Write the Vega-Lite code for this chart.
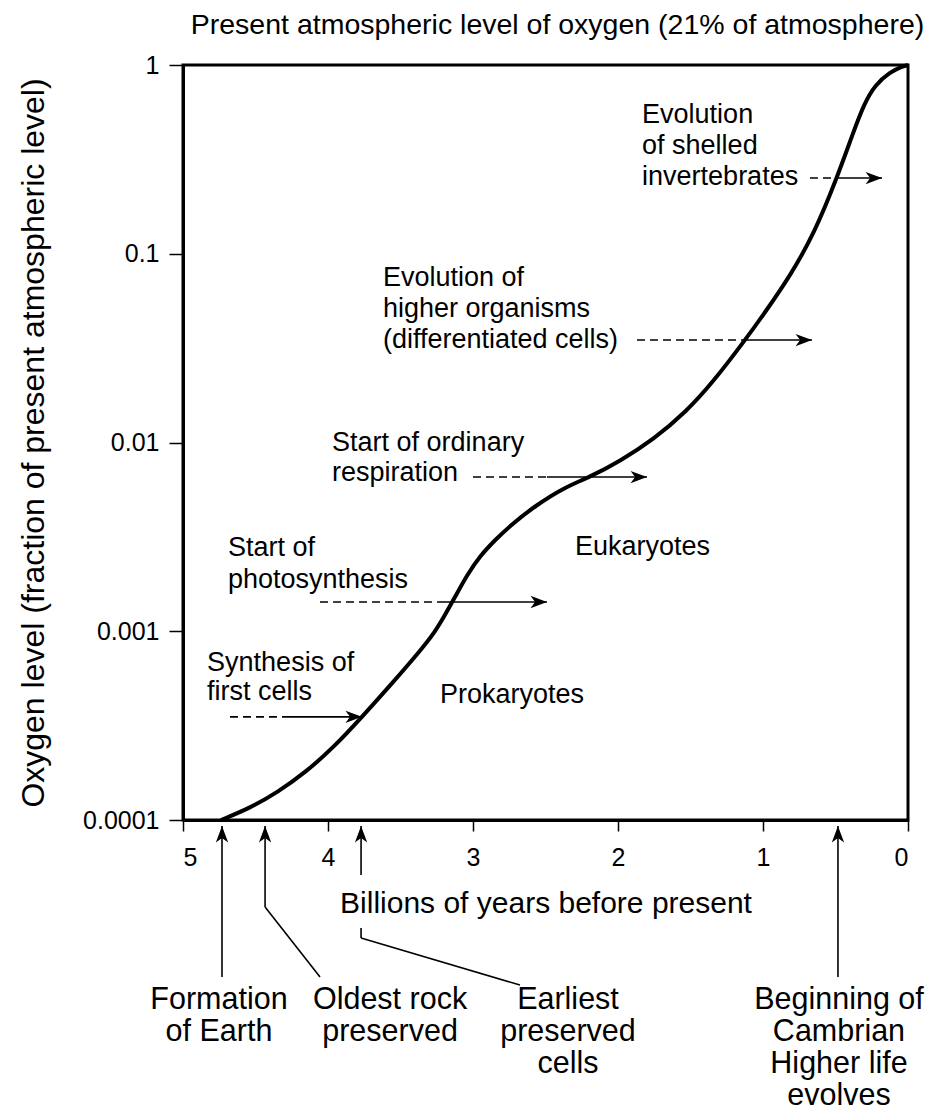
{
  "$schema": "https://vega.github.io/schema/vega-lite/v6.json",
  "autosize": {"type": "none"},
  "width": 725,
  "height": 755,
  "padding": {"left": 183, "top": 65, "right": 24, "bottom": 300},
  "background": "white",
  "config": {
    "font": "Liberation Sans",
    "view": {"stroke": "black", "strokeWidth": 3},
    "axis": {"grid": false, "domainColor": "black", "domainWidth": 3, "tickColor": "black", "tickWidth": 1.5, "labelColor": "black", "titleColor": "black", "labelFontSize": 25, "titleFontWeight": "normal", "labelFont": "Liberation Sans", "titleFont": "Liberation Sans"}
  },
  "title": {"text": "Present atmospheric level of oxygen (21% of atmosphere)", "fontSize": 28.5, "fontWeight": "normal", "font": "Liberation Sans", "color": "black", "anchor": "middle", "frame": "group", "offset": 14, "dx": 12},
  "datasets": {
    "curve": [
      {"t": 4.738, "o2": 0.0001},
      {"t": 4.538, "o2": 0.00011577},
      {"t": 4.345, "o2": 0.00014068},
      {"t": 4.152, "o2": 0.00017963},
      {"t": 3.959, "o2": 0.00024357},
      {"t": 3.766, "o2": 0.00035133},
      {"t": 3.538, "o2": 0.00055163},
      {"t": 3.366, "o2": 0.0007860},
      {"t": 3.262, "o2": 0.0009909},
      {"t": 3.193, "o2": 0.0012195},
      {"t": 3.124, "o2": 0.0015186},
      {"t": 3.041, "o2": 0.0019861},
      {"t": 2.952, "o2": 0.0025043},
      {"t": 2.848, "o2": 0.0030436},
      {"t": 2.731, "o2": 0.0036998},
      {"t": 2.572, "o2": 0.0046089},
      {"t": 2.379, "o2": 0.0057412},
      {"t": 2.193, "o2": 0.0065647},
      {"t": 1.986, "o2": 0.0079799},
      {"t": 1.759, "o2": 0.010309},
      {"t": 1.524, "o2": 0.014684},
      {"t": 1.345, "o2": 0.020918},
      {"t": 1.138, "o2": 0.033665},
      {"t": 0.979, "o2": 0.049737},
      {"t": 0.814, "o2": 0.076243},
      {"t": 0.648, "o2": 0.12726},
      {"t": 0.49, "o2": 0.25192},
      {"t": 0.379, "o2": 0.43621},
      {"t": 0.303, "o2": 0.62144},
      {"t": 0.228, "o2": 0.78343},
      {"t": 0.124, "o2": 0.91806},
      {"t": 0.034, "o2": 0.98786},
      {"t": 0.0, "o2": 1.0}
    ],
    "innerText": [
      {"t": 1.834, "o2": 0.543, "label": "Evolution"},
      {"t": 1.834, "o2": 0.3726, "label": "of shelled"},
      {"t": 1.834, "o2": 0.255, "label": "invertebrates"},
      {"t": 3.621, "o2": 0.07437, "label": "Evolution of"},
      {"t": 3.621, "o2": 0.05096, "label": "higher organisms"},
      {"t": 3.621, "o2": 0.0349, "label": "(differentiated cells)"},
      {"t": 3.972, "o2": 0.00994, "label": "Start of ordinary"},
      {"t": 3.972, "o2": 0.00689, "label": "respiration"},
      {"t": 4.69, "o2": 0.002761, "label": "Start of"},
      {"t": 4.69, "o2": 0.001868, "label": "photosynthesis"},
      {"t": 4.834, "o2": 0.0006787, "label": "Synthesis of"},
      {"t": 4.834, "o2": 0.0004768, "label": "first cells"},
      {"t": 3.228, "o2": 0.0004596, "label": "Prokaryotes"},
      {"t": 2.297, "o2": 0.002795, "label": "Eukaryotes"}
    ],
    "bottomText": [
      {"t": 4.752, "o2": 0.00001112, "label": "Formation"},
      {"t": 4.752, "o2": 0.00000753, "label": "of Earth"},
      {"t": 3.572, "o2": 0.00001112, "label": "Oldest rock"},
      {"t": 3.572, "o2": 0.00000753, "label": "preserved"},
      {"t": 2.345, "o2": 0.00001112, "label": "Earliest"},
      {"t": 2.345, "o2": 0.00000753, "label": "preserved"},
      {"t": 2.345, "o2": 0.0000051, "label": "cells"},
      {"t": 0.476, "o2": 0.00001112, "label": "Beginning of"},
      {"t": 0.476, "o2": 0.00000753, "label": "Cambrian"},
      {"t": 0.476, "o2": 0.0000051, "label": "Higher life"},
      {"t": 0.476, "o2": 0.00000345, "label": "evolves"}
    ],
    "dashed": [
      {"t": 4.676, "t2": 4.283, "o2": 0.000352},
      {"t": 4.055, "t2": 3.207, "o2": 0.001429},
      {"t": 3.0, "t2": 2.49, "o2": 0.00656},
      {"t": 1.869, "t2": 1.138, "o2": 0.0349},
      {"t": 0.676, "t2": 0.49, "o2": 0.2518}
    ],
    "solid": [
      {"t": 4.283, "t2": 3.766, "o2": 0.000352},
      {"t": 3.207, "t2": 2.49, "o2": 0.001429},
      {"t": 2.49, "t2": 1.8, "o2": 0.00656},
      {"t": 1.138, "t2": 0.662, "o2": 0.0349},
      {"t": 0.49, "t2": 0.179, "o2": 0.2518}
    ],
    "headsRight": [
      {"t": 3.766, "o2": 0.000352},
      {"t": 2.49, "o2": 0.001429},
      {"t": 1.8, "o2": 0.00656},
      {"t": 0.662, "o2": 0.0349},
      {"t": 0.179, "o2": 0.2518}
    ],
    "connectors": [
      {"t": 4.731, "o2": 0.0000929, "t2": 4.731, "o2b": 0.00001472},
      {"t": 4.434, "o2": 0.0000929, "t2": 4.434, "o2b": 0.0000346},
      {"t": 4.434, "o2": 0.0000346, "t2": 4.055, "o2b": 0.00001472},
      {"t": 3.772, "o2": 0.0000929, "t2": 3.772, "o2b": 0.0000512},
      {"t": 3.772, "o2": 0.0000268, "t2": 3.772, "o2b": 0.0000237},
      {"t": 3.772, "o2": 0.0000237, "t2": 2.676, "o2b": 0.00001336},
      {"t": 0.483, "o2": 0.0000929, "t2": 0.483, "o2b": 0.00001472}
    ],
    "headsUp": [
      {"t": 4.731, "o2": 0.0000929},
      {"t": 4.434, "o2": 0.0000929},
      {"t": 3.772, "o2": 0.0000929},
      {"t": 0.483, "o2": 0.0000929}
    ]
  },
  "layer": [
    {
      "data": {"name": "curve"},
      "mark": {"type": "line", "color": "black", "strokeWidth": 4, "interpolate": "basis", "clip": false},
      "encoding": {
        "x": {"field": "t", "type": "quantitative", "scale": {"domain": [0, 5], "reverse": true, "nice": false, "zero": false},
          "axis": {"values": [0, 1, 2, 3, 4, 5], "format": "d", "tickSize": 11, "labelPadding": 14, "title": "Billions of years before present", "titleFontSize": 30, "titlePadding": 18}},
        "y": {"field": "o2", "type": "quantitative", "scale": {"type": "log", "domain": [0.0001, 1], "nice": false},
          "axis": {"values": [0.0001, 0.001, 0.01, 0.1, 1], "format": "~g", "tickSize": 14, "labelPadding": 10, "title": "Oxygen level (fraction of present atmospheric level)", "titleFontSize": 32, "titlePadding": 32}}
      }
    },
    {
      "data": {"name": "dashed"},
      "mark": {"type": "rule", "color": "black", "strokeWidth": 1.6, "strokeDash": [8, 5], "clip": false},
      "encoding": {
        "x": {"field": "t", "type": "quantitative"},
        "x2": {"field": "t2"},
        "y": {"field": "o2", "type": "quantitative"}
      }
    },
    {
      "data": {"name": "solid"},
      "mark": {"type": "rule", "color": "black", "strokeWidth": 1.6, "clip": false},
      "encoding": {
        "x": {"field": "t", "type": "quantitative"},
        "x2": {"field": "t2"},
        "y": {"field": "o2", "type": "quantitative"}
      }
    },
    {
      "data": {"name": "headsRight"},
      "mark": {"type": "point", "shape": "M0,0L-2,-0.75L-1.45,0L-2,0.75Z", "filled": true, "color": "black", "opacity": 1, "size": 270, "strokeWidth": 0, "clip": false},
      "encoding": {
        "x": {"field": "t", "type": "quantitative"},
        "y": {"field": "o2", "type": "quantitative"}
      }
    },
    {
      "data": {"name": "connectors"},
      "mark": {"type": "rule", "color": "black", "strokeWidth": 1.6, "clip": false},
      "encoding": {
        "x": {"field": "t", "type": "quantitative"},
        "x2": {"field": "t2"},
        "y": {"field": "o2", "type": "quantitative"},
        "y2": {"field": "o2b"}
      }
    },
    {
      "data": {"name": "headsUp"},
      "mark": {"type": "point", "shape": "M0,0L-2,-0.75L-1.45,0L-2,0.75Z", "filled": true, "color": "black", "opacity": 1, "size": 270, "strokeWidth": 0, "angle": 270, "clip": false},
      "encoding": {
        "x": {"field": "t", "type": "quantitative"},
        "y": {"field": "o2", "type": "quantitative"}
      }
    },
    {
      "data": {"name": "innerText"},
      "mark": {"type": "text", "align": "left", "baseline": "middle", "fontSize": 27, "font": "Liberation Sans", "color": "black", "clip": false},
      "encoding": {
        "x": {"field": "t", "type": "quantitative"},
        "y": {"field": "o2", "type": "quantitative"},
        "text": {"field": "label"}
      }
    },
    {
      "data": {"name": "bottomText"},
      "mark": {"type": "text", "align": "center", "baseline": "middle", "fontSize": 30.5, "font": "Liberation Sans", "color": "black", "clip": false},
      "encoding": {
        "x": {"field": "t", "type": "quantitative"},
        "y": {"field": "o2", "type": "quantitative"},
        "text": {"field": "label"}
      }
    }
  ]
}
